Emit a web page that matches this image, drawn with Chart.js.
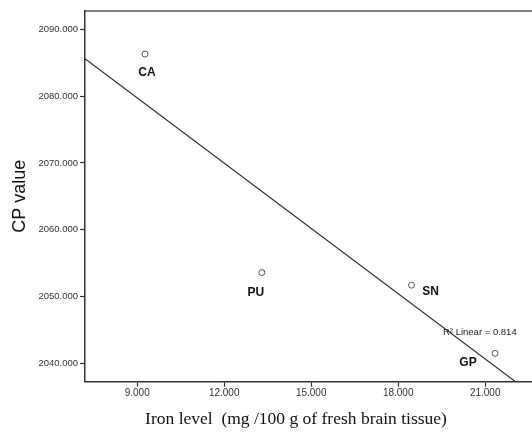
<!DOCTYPE html>
<html>
<head>
<meta charset="utf-8">
<script src="https://cdn.jsdelivr.net/npm/chart.js@4.4.1/dist/chart.umd.min.js"></script>
<style>
  html, body { margin: 0; padding: 0; background: #fff; overflow: hidden; }
  #wrap { width: 536px; height: 433px; position: relative; }
</style>
</head>
<body>
<div id="wrap"><canvas id="cpChart"></canvas></div>
<script>
// regions and their measured values
const regions = ["CA", "PU", "SN", "GP"];
const ironLevel = [9.27, 13.30, 18.46, 21.34];   // mg /100 g fresh brain tissue
const cpValue = [2086.3, 2053.6, 2051.7, 2041.5];
const xTicks = [9, 12, 15, 18, 21];
const yTicks = [2040, 2050, 2060, 2070, 2080, 2090];
const rSquared = 0.814;

const X_MIN = 7.2, X_MAX = 22.58;
const Y_MIN = 2037.25, Y_MAX = 2092.75;

// least squares fit line (SPSS "Fit line at total")
function fitLine(xs, ys) {
    const n = xs.length;
    const mx = xs.reduce((a, b) => a + b, 0) / n;
    const my = ys.reduce((a, b) => a + b, 0) / n;
    let sxy = 0, sxx = 0;
    for (let i = 0; i < n; i++) {
        sxy += (xs[i] - mx) * (ys[i] - my);
        sxx += (xs[i] - mx) * (xs[i] - mx);
    }
    const slope = sxy / sxx;
    return x => my + slope * (x - mx);
}
const fit = fitLine(ironLevel, cpValue);

const points = ironLevel.map((x, i) => ({ x, y: cpValue[i] }));
const fitPoints = [X_MIN, X_MAX].map(x => ({ x, y: fit(x) }));

// pixel offsets of the region labels from their points
const labelOffsets = [[2, 19], [-6, 20], [19, 7], [-27, 9]];

const annotate = {
    id: "annotate",
    afterDatasetsDraw(chart) {
        const { ctx, chartArea, scales } = chart;
        ctx.save();
        // top frame line
        ctx.strokeStyle = "#555";
        ctx.lineWidth = 1.5;
        ctx.beginPath();
        ctx.moveTo(chartArea.left, chartArea.top);
        ctx.lineTo(chart.width, chartArea.top);
        ctx.stroke();

        // region labels
        ctx.fillStyle = "#111";
        ctx.font = "bold 12px Arial, 'Liberation Sans', sans-serif";
        ctx.textAlign = "center";
        ctx.textBaseline = "middle";
        regions.forEach((name, i) => {
            const px = scales.x.getPixelForValue(ironLevel[i]);
            const py = scales.y.getPixelForValue(cpValue[i]);
            ctx.fillText(name, px + labelOffsets[i][0], py + labelOffsets[i][1]);
        });

        // R squared note
        ctx.font = "9.5px Arial, 'Liberation Sans', sans-serif";
        ctx.textAlign = "left";
        ctx.fillStyle = "#222";
        ctx.fillText("R² Linear = " + rSquared.toFixed(3), 443, 332);

        // x axis title (serif, as in the original)
        ctx.font = "17.5px 'Times New Roman', 'Liberation Serif', serif";
        ctx.textAlign = "center";
        ctx.fillStyle = "#111";
        ctx.fillText("Iron level  (mg /100 g of fresh brain tissue)", 296, 419);
        ctx.restore();
    }
};

new Chart(document.getElementById("cpChart").getContext("2d"), {
    type: "scatter",
    data: {
        datasets: [
            {
                label: "CP value",
                data: points,
                pointStyle: "circle",
                pointRadius: 3,
                pointBorderWidth: 1,
                pointBorderColor: "#555",
                pointBackgroundColor: "rgba(0,0,0,0)",
                showLine: false
            },
            {
                label: "Fit line",
                type: "line",
                data: fitPoints,
                borderColor: "#333",
                borderWidth: 1.2,
                pointRadius: 0,
                fill: false,
                clip: 0
            }
        ]
    },
    options: {
        responsive: true,
        maintainAspectRatio: false,
        animation: false,
        layout: { padding: { top: 11, left: 0, right: 0, bottom: 0 } },
        plugins: {
            legend: { display: false },
            tooltip: { enabled: false }
        },
        scales: {
            x: {
                type: "linear",
                min: X_MIN,
                max: X_MAX,
                afterBuildTicks: s => { s.ticks = xTicks.map(v => ({ value: v })); },
                afterFit: s => { s.height = 51.3; },
                grid: { drawOnChartArea: false, tickLength: 5, color: "#333", tickWidth: 1.2 },
                border: { color: "#333", width: 1.5 },
                ticks: {
                    padding: 1,
                    color: "#333",
                    font: { family: "Arial, 'Liberation Sans', sans-serif", size: 10 },
                    callback: v => v.toFixed(3)
                }
            },
            y: {
                type: "linear",
                min: Y_MIN,
                max: Y_MAX,
                afterBuildTicks: s => { s.ticks = yTicks.map(v => ({ value: v })); },
                afterFit: s => { s.width = 85; },
                grid: { drawOnChartArea: false, tickLength: 5, color: "#333", tickWidth: 1.2 },
                border: { color: "#333", width: 1.5 },
                ticks: {
                    padding: 2,
                    color: "#333",
                    font: { family: "Arial, 'Liberation Sans', sans-serif", size: 9.5 },
                    callback: v => v.toFixed(3)
                },
                title: {
                    display: true,
                    text: "CP value",
                    color: "#111",
                    padding: { top: 9, bottom: 0 },
                    font: { family: "Arial, 'Liberation Sans', sans-serif", size: 18 }
                }
            }
        }
    },
    plugins: [annotate]
});
</script>
</body>
</html>
